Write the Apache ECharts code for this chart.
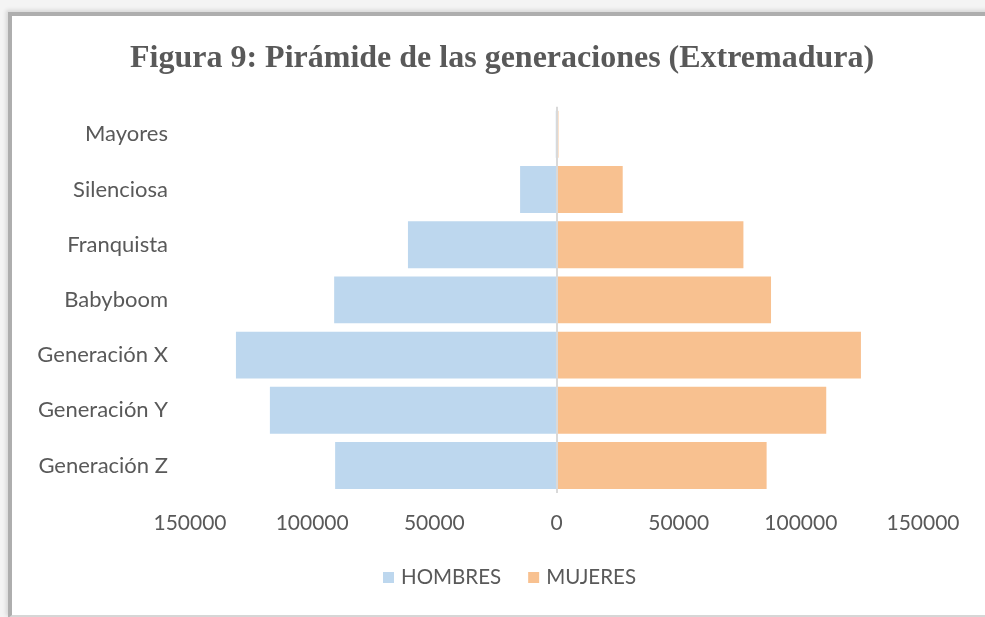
<!DOCTYPE html>
<html>
<head>
<meta charset="utf-8">
<script src="https://cdn.jsdelivr.net/npm/echarts@6/dist/echarts.min.js"></script>
<style>
  html, body { margin: 0; padding: 0; background: #f4f4f4; }
  #wrap { position: absolute; left: 0; top: 0; width: 985px; height: 617px; overflow: hidden; background: #f4f4f4; }
  #frame { position: absolute; left: 8px; top: 12px; width: 1000px; height: 599px; background: #ffffff;
           border-left: 4px solid #aeaeae; border-top: 4px solid #aeaeae; border-bottom: 3px solid #d6d6d6;
           box-shadow: -2px -2px 4px rgba(0,0,0,0.12); }
  #chart { position: absolute; left: 0; top: 0; width: 985px; height: 617px; }
</style>
</head>
<body>
<div id="wrap">
  <div id="frame"></div>
  <div id="chart"></div>
</div>
<script>
const titleText = 'Figura 9: Pirámide de las generaciones (Extremadura)';
const categories = ['Mayores', 'Silenciosa', 'Franquista', 'Babyboom', 'Generación X', 'Generación Y', 'Generación Z'];
const hombres = [300, 14900, 60800, 91000, 131200, 117300, 90600];
const mujeres = [800, 27100, 76500, 87800, 124600, 110400, 86000];
const seriesNames = ['HOMBRES', 'MUJERES'];
const axisMin = -150000;
const axisMax = 150000;
const axisStep = 50000;

const chart = echarts.init(document.getElementById('chart'), null, { renderer: 'canvas' });
const txt = '#595959';
const font = 'Lato';
chart.setOption({
  backgroundColor: 'transparent',
  animation: false,
  title: {
    text: titleText,
    left: 125,
    top: 38,
    textStyle: { fontFamily: 'Liberation Serif', fontWeight: 'bold', fontSize: 32, color: txt }
  },
  legend: {
    data: seriesNames,
    left: 383,
    top: 567,
    padding: 0,
    icon: 'rect',
    itemWidth: 11,
    itemHeight: 11,
    itemGap: 27,
    textStyle: { fontFamily: font, fontSize: 20.5, color: txt, padding: [0, 0, 0, 2] }
  },
  grid: { left: 190, right: 62, top: 106.7, bottom: 617 - 493.1, containLabel: false },
  xAxis: {
    type: 'value',
    min: axisMin,
    max: axisMax,
    interval: axisStep,
    axisLine: { show: false },
    axisTick: { show: false },
    splitLine: { show: false },
    axisLabel: {
      margin: 20,
      fontFamily: font, fontSize: 21, color: txt,
      formatter: v => String(Math.abs(v))
    }
  },
  yAxis: {
    type: 'category',
    data: categories,
    inverse: true,
    axisLine: { show: false },
    axisTick: { show: false },
    axisLabel: { margin: 22, fontFamily: font, fontSize: 22, color: txt }
  },
  series: [
    {
      name: seriesNames[0],
      type: 'bar',
      data: hombres.map(v => -v),
      barGap: '-100%',
      barCategoryGap: '15%',
      itemStyle: { color: '#BDD7EE' },
      markLine: {
        silent: true,
        symbol: 'none',
        label: { show: false },
        lineStyle: { color: '#d9d9d9', width: 2, type: 'solid' },
        data: [{ xAxis: 0 }],
        z: 5
      }
    },
    {
      name: seriesNames[1],
      type: 'bar',
      data: mujeres,
      barGap: '-100%',
      barCategoryGap: '15%',
      itemStyle: { color: '#F8C190' }
    }
  ]
});
</script>
</body>
</html>
